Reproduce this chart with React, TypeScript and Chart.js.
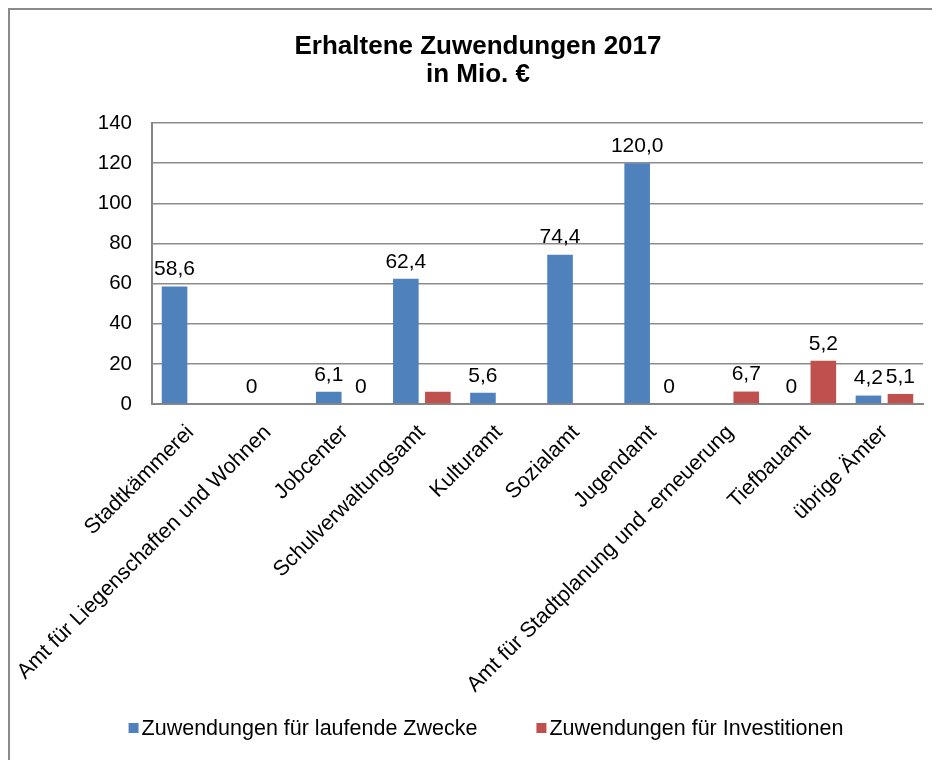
import React, { useEffect, useRef } from "react";
import { Chart, registerables } from "chart.js";

Chart.register(...registerables);

const titleLines = ["Erhaltene Zuwendungen 2017", "in Mio. €"];
const categories = [
  "Stadtkämmerei",
  "Amt für Liegenschaften und Wohnen",
  "Jobcenter",
  "Schulverwaltungsamt",
  "Kulturamt",
  "Sozialamt",
  "Jugendamt",
  "Amt für Stadtplanung und -erneuerung",
  "Tiefbauamt",
  "übrige Ämter",
];
const seriesNames = ["Zuwendungen für laufende Zwecke", "Zuwendungen für Investitionen"];
const laufendeZwecke = [58.6, 0, 6.1, 62.4, 5.6, 74.4, 120.0, 0, 0, 4.2];
const investitionen = [0, 0, 0, 6.1, 0, 0, 0, 6.2, 21.5, 5.0];
const laufendeLabels: (string | null)[] = ["58,6", "0", "6,1", "62,4", "5,6", "74,4", "120,0", null, "0", "4,2"];
const investitionenLabels: (string | null)[] = [null, null, "0", null, null, null, "0", "6,7", "5,2", "5,1"];
const yMin = 0;
const yMax = 140;
const yStep = 20;

const BLUE = "#4F81BD";
const RED = "#C0504D";
const FONT = '"Liberation Sans", Arial, sans-serif';

const valueLabelPlugin = {
  id: "valueLabels",
  afterDatasetsDraw(chart: any) {
    const ctx = chart.ctx;
    const sets = [laufendeLabels, investitionenLabels];
    chart.data.datasets.forEach((_ds: any, di: number) => {
      const meta = chart.getDatasetMeta(di);
      meta.data.forEach((bar: any, i: number) => {
        const t = sets[di][i];
        if (t == null) return;
        const { x, y } = bar.getProps(["x", "y"], true);
        ctx.save();
        ctx.font = `21px ${FONT}`;
        ctx.fillStyle = "#000";
        ctx.textAlign = "center";
        ctx.textBaseline = "middle";
        ctx.fillText(t, x, y - 17);
        ctx.restore();
      });
    });
  },
};

const legendPlugin = {
  id: "customLegend",
  afterDraw(chart: any) {
    const ctx = chart.ctx;
    ctx.save();
    ctx.font = `21.5px ${FONT}`;
    const box = 10;
    const gap = 3;
    const itemGap = 59;
    const items = chart.data.datasets.map((ds: any) => ({
      label: ds.label,
      color: ds.backgroundColor,
      w: box + gap + ctx.measureText(ds.label).width,
    }));
    const total = items.reduce((s: number, it: any) => s + it.w, 0) + itemGap * (items.length - 1);
    let x = 476 - total / 2;
    const y = chart.height - 32;
    items.forEach((it: any) => {
      ctx.fillStyle = it.color;
      ctx.fillRect(x, y - box / 2, box, box);
      ctx.fillStyle = "#000";
      ctx.textAlign = "left";
      ctx.textBaseline = "middle";
      ctx.fillText(it.label, x + box + gap, y + 1);
      x += it.w + itemGap;
    });
    ctx.restore();
  },
};

export default function App() {
  const canvasRef = useRef<HTMLCanvasElement | null>(null);

  useEffect(() => {
    document.documentElement.style.overflow = "hidden";
    const canvas = canvasRef.current;
    if (!canvas) return;
    const chart = new Chart(canvas, {
      type: "bar",
      data: {
        labels: categories,
        datasets: [
          {
            label: seriesNames[0],
            data: laufendeZwecke,
            backgroundColor: BLUE,
            borderWidth: 0,
            categoryPercentage: 0.83,
            barPercentage: 0.8,
          },
          {
            label: seriesNames[1],
            data: investitionen,
            backgroundColor: RED,
            borderWidth: 0,
            categoryPercentage: 0.83,
            barPercentage: 0.8,
          },
        ],
      },
      options: {
        animation: false,
        responsive: true,
        maintainAspectRatio: false,
        layout: { padding: { left: 23, right: 17, top: 0, bottom: 54 } },
        plugins: {
          legend: { display: false },
          tooltip: { enabled: false },
          title: {
            display: true,
            text: titleLines,
            color: "#000",
            font: { family: FONT, size: 26, weight: "bold", lineHeight: 28 / 26 },
            padding: { top: 23, bottom: 34 },
          },
        },
        scales: {
          x: {
            grid: { display: false, drawTicks: false },
            border: { display: true, color: "#868686", width: 2 },
            ticks: {
              color: "#000",
              font: { family: FONT, size: 21.5 },
              minRotation: 45,
              maxRotation: 45,
              autoSkip: false,
              padding: 16,
            },
            afterFit(scale: any) {
              scale.height = 302;
            },
          },
          y: {
            min: yMin,
            max: yMax,
            grid: { color: "#8c8c8c", lineWidth: 1.5, drawTicks: false },
            border: { display: true, color: "#868686", width: 2 },
            ticks: {
              stepSize: yStep,
              color: "#000",
              font: { family: FONT, size: 20.5 },
              padding: 20,
            },
            afterFit(scale: any) {
              scale.width = 119;
            },
          },
        },
      },
      plugins: [valueLabelPlugin, legendPlugin],
    });
    return () => chart.destroy();
  }, []);

  return (
    <div
      style={{
        boxSizing: "border-box",
        width: 932,
        height: 752,
        borderLeft: "2px solid #8a8a8a",
        borderTop: "2px solid #8a8a8a",
        background: "#fff",
      }}
    >
      <div style={{ position: "relative", width: 930, height: 750 }}>
        <canvas ref={canvasRef} />
      </div>
    </div>
  );
}
